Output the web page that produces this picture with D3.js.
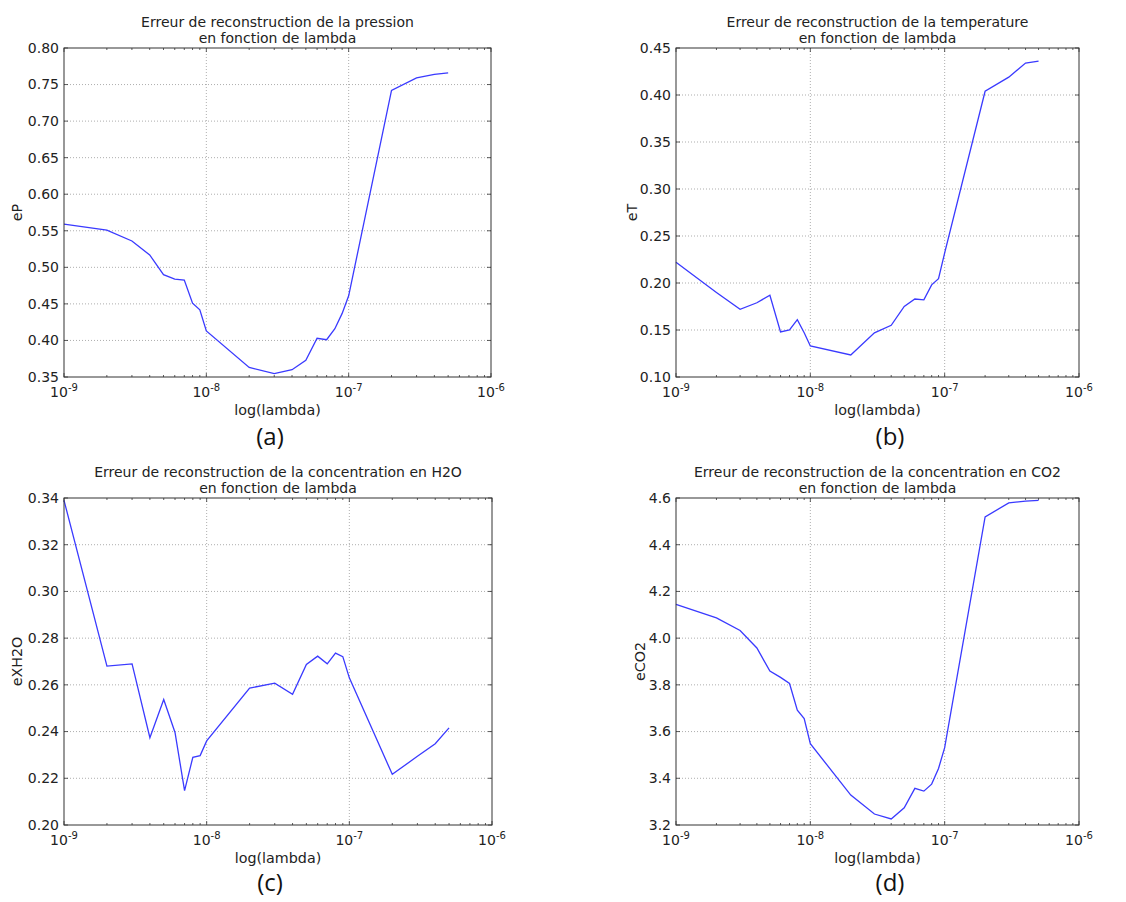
<!DOCTYPE html>
<html><head><meta charset="utf-8">
<script src="https://cdn.jsdelivr.net/npm/d3@7"></script>
<style>body{margin:0;background:#fff}svg{display:block}</style>
</head><body>
<svg id="c" width="1126" height="902"></svg>
<script>
const lambdas = [1e-9,2e-9,3e-9,4e-9,5e-9,6e-9,7e-9,8e-9,9e-9,1e-8,2e-8,3e-8,4e-8,5e-8,6e-8,7e-8,8e-8,9e-8,1e-7,2e-7,3e-7,4e-7,5e-7];
const xTicks = [1e-9,1e-8,1e-7,1e-6];
const xTickExp = ["-9","-8","-7","-6"];

const eP = [0.559,0.551,0.536,0.517,0.490,0.484,0.4825,0.451,0.442,0.413,0.363,0.3546,0.360,0.373,0.403,0.401,0.416,0.437,0.461,0.742,0.759,0.764,0.766];
const eT = [0.222,0.190,0.172,0.179,0.187,0.148,0.150,0.161,0.147,0.133,0.1234,0.147,0.155,0.175,0.183,0.182,0.198,0.2045,0.232,0.404,0.419,0.434,0.436];
const eXH2O = [0.339,0.268,0.269,0.2374,0.2537,0.2396,0.2147,0.229,0.2297,0.236,0.2586,0.2607,0.256,0.2687,0.2723,0.269,0.2736,0.2721,0.263,0.2217,0.2294,0.2348,0.2416];
const eCO2 = [4.145,4.087,4.033,3.958,3.859,3.832,3.806,3.692,3.656,3.548,3.328,3.247,3.226,3.274,3.357,3.345,3.375,3.442,3.531,4.519,4.579,4.587,4.590];

const titlesLine1 = ["Erreur de reconstruction de la pression","Erreur de reconstruction de la temperature","Erreur de reconstruction de la concentration en H2O","Erreur de reconstruction de la concentration en CO2"];
const titleLine2 = "en fonction de lambda";
const yLabels = ["eP","eT","eXH2O","eCO2"];
const xLabel = "log(lambda)";
const panelLabels = ["(a)","(b)","(c)","(d)"];
const yTicksA = [0.35,0.40,0.45,0.50,0.55,0.60,0.65,0.70,0.75,0.80];
const yTicksB = [0.10,0.15,0.20,0.25,0.30,0.35,0.40,0.45];
const yTicksC = [0.20,0.22,0.24,0.26,0.28,0.30,0.32,0.34];
const yTicksD = [3.2,3.4,3.6,3.8,4.0,4.2,4.4,4.6];

const panels = [
  {vals:eP, ticks:yTicksA, fmt:d3.format(".2f"), box:[64,491,48,377], ylx:17, pl:[270,437]},
  {vals:eT, ticks:yTicksB, fmt:d3.format(".2f"), box:[676,1079,48,377], ylx:632, pl:[890,437]},
  {vals:eXH2O, ticks:yTicksC, fmt:d3.format(".2f"), box:[64,492,498,825], ylx:17, pl:[270,883]},
  {vals:eCO2, ticks:yTicksD, fmt:d3.format(".1f"), box:[676,1079,498,825], ylx:640, pl:[890,883]}
];

const svg = d3.select("#c");
const FONT = "DejaVu Sans, sans-serif";

panels.forEach((p,i)=>{
  const [L,R,T,B] = p.box;
  const x = d3.scaleLog().domain([1e-9,1e-6]).range([L,R]);
  const y = d3.scaleLinear().domain([p.ticks[0], p.ticks[p.ticks.length-1]]).range([B,T]);
  const g = svg.append("g");

  // grid
  g.append("g").selectAll("line").data(xTicks.slice(1,-1)).join("line")
    .attr("x1",d=>x(d)).attr("x2",d=>x(d)).attr("y1",T).attr("y2",B)
    .attr("stroke","#777").attr("stroke-width",0.6).attr("stroke-dasharray","1,2");
  g.append("g").selectAll("line").data(p.ticks.slice(1,-1)).join("line")
    .attr("y1",d=>y(d)).attr("y2",d=>y(d)).attr("x1",L).attr("x2",R)
    .attr("stroke","#777").attr("stroke-width",0.6).attr("stroke-dasharray","1,2");

  // minor x ticks
  const minor = [];
  for (let e=-9;e<-6;e++) for (let m=2;m<=9;m++) minor.push(m*Math.pow(10,e));
  g.append("g").selectAll("line").data(minor).join("line")
    .attr("x1",d=>x(d)).attr("x2",d=>x(d)).attr("y1",B).attr("y2",B-2)
    .attr("stroke","#333").attr("stroke-width",0.8);
  g.append("g").selectAll("line").data(minor).join("line")
    .attr("x1",d=>x(d)).attr("x2",d=>x(d)).attr("y1",T).attr("y2",T+2)
    .attr("stroke","#333").attr("stroke-width",0.8);
  // major x ticks
  g.append("g").selectAll("line").data(xTicks).join("line")
    .attr("x1",d=>x(d)).attr("x2",d=>x(d)).attr("y1",B).attr("y2",B-4)
    .attr("stroke","#333").attr("stroke-width",0.8);
  g.append("g").selectAll("line").data(xTicks).join("line")
    .attr("x1",d=>x(d)).attr("x2",d=>x(d)).attr("y1",T).attr("y2",T+4)
    .attr("stroke","#333").attr("stroke-width",0.8);
  // y ticks
  g.append("g").selectAll("line").data(p.ticks).join("line")
    .attr("y1",d=>y(d)).attr("y2",d=>y(d)).attr("x1",L).attr("x2",L+4)
    .attr("stroke","#333").attr("stroke-width",0.8);
  g.append("g").selectAll("line").data(p.ticks).join("line")
    .attr("y1",d=>y(d)).attr("y2",d=>y(d)).attr("x1",R).attr("x2",R-4)
    .attr("stroke","#333").attr("stroke-width",0.8);

  // line
  const line = d3.line().x((d,j)=>x(lambdas[j])).y(d=>y(d));
  g.append("path").datum(p.vals).attr("d",line)
    .attr("fill","none").attr("stroke","#3a3aff").attr("stroke-width",1.3);

  // frame
  g.append("rect").attr("x",L).attr("y",T).attr("width",R-L).attr("height",B-T)
    .attr("fill","none").attr("stroke","#333").attr("stroke-width",1);

  // x tick labels
  const xl = g.append("g").selectAll("text").data(xTicks).join("text")
    .attr("x",d=>x(d)).attr("y",B+20).attr("text-anchor","middle")
    .attr("font-family",FONT).attr("font-size",14).attr("fill","#222");
  xl.append("tspan").text("10");
  xl.append("tspan").text((d,k)=>xTickExp[k]).attr("font-size",10).attr("dy",-6);

  // y tick labels
  g.append("g").selectAll("text").data(p.ticks).join("text")
    .attr("x",L-5).attr("y",d=>y(d)).attr("dy","0.35em").attr("text-anchor","end")
    .attr("font-family",FONT).attr("font-size",14).attr("fill","#222")
    .text(d=>p.fmt(d));

  // titles
  const cx = (L+R)/2;
  g.append("text").attr("x",cx).attr("y",T-21).attr("text-anchor","middle")
    .attr("font-family",FONT).attr("font-size",14).attr("fill","#222").text(titlesLine1[i]);
  g.append("text").attr("x",cx).attr("y",T-5).attr("text-anchor","middle")
    .attr("font-family",FONT).attr("font-size",14).attr("fill","#222").text(titleLine2);

  // axis labels
  g.append("text").attr("x",cx).attr("y",B+38).attr("text-anchor","middle")
    .attr("font-family",FONT).attr("font-size",14.3).attr("fill","#222").text(xLabel);
  g.append("text").attr("transform",`translate(${p.ylx},${(T+B)/2}) rotate(-90)`)
    .attr("text-anchor","middle").attr("dy","0.35em")
    .attr("font-family",FONT).attr("font-size",14.3).attr("fill","#222").text(yLabels[i]);

  // panel label
  svg.append("text").attr("x",p.pl[0]).attr("y",p.pl[1]).attr("dy","0.35em").attr("text-anchor","middle")
    .attr("font-family","Open Sans, sans-serif").attr("font-size",24).attr("fill","#111").text(panelLabels[i]);
});
</script>
</body></html>
